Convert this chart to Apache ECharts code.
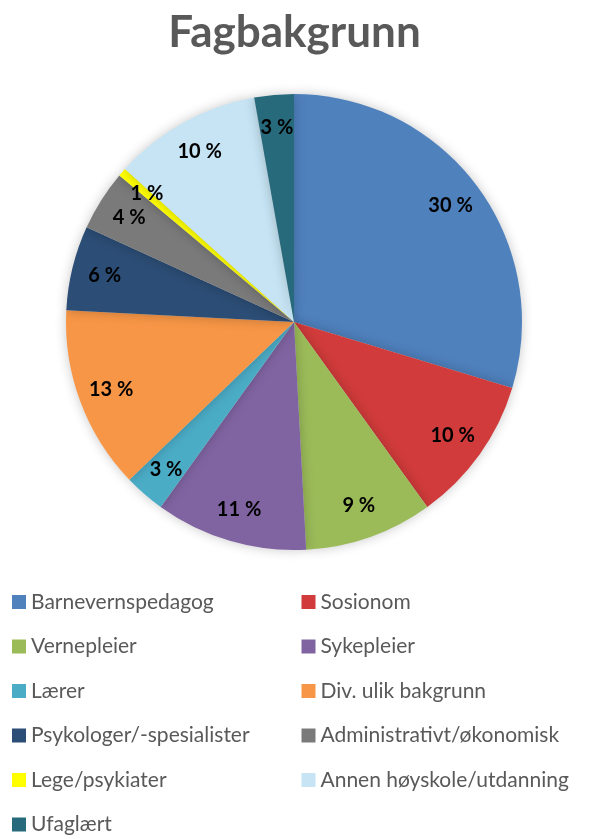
<!DOCTYPE html>
<html>
<head>
<meta charset="utf-8">
<script src="https://cdn.jsdelivr.net/npm/echarts@6/dist/echarts.min.js"></script>
<style>
  html, body { margin: 0; padding: 0; background: #fff; }
  #chart { width: 589px; height: 839px; }
</style>
</head>
<body>
<div id="chart"></div>
<script>
// andel per fagbakgrunn (prosent, lest av figuren)
const categories = [
  "Barnevernspedagog", "Sosionom", "Vernepleier", "Sykepleier", "Lærer",
  "Div. ulik bakgrunn", "Psykologer/-spesialister", "Administrativt/økonomisk",
  "Lege/psykiater", "Annen høyskole/utdanning", "Ufaglært"
];
const values = [29.7, 10.4, 9.1, 10.8, 2.9, 13.0, 6.0, 4.3, 0.6, 10.5, 2.8];
const colors = [
  "#4f81bd", "#d13b3b", "#9bbb59", "#8064a2", "#4bacc6",
  "#f79646", "#2c4d75", "#7a7a7a", "#ffff00", "#c6e4f4", "#276a7c"
];

const FONT = "Lato";
const cx = 294, cy = 322, R = 228;

let myChart = echarts.init(document.getElementById("chart"));
const pieData = categories.map((name, i) => ({
  name: name,
  value: values[i],
  itemStyle: { color: colors[i] },
}));

let option = {
  animation: false,
  color: colors,
  title: {
    text: "Fagbakgrunn",
    left: "center",
    top: 6,
    textStyle: {
      fontFamily: FONT,
      fontWeight: "bold",
      fontSize: 44,
      color: "#595959",
    },
  },
  legend: {
    data: categories,
    left: 12,
    top: 590,
    width: 575,
    padding: 0,
    itemWidth: 14,
    itemHeight: 14,
    itemGap: 20.5,
    icon: "rect",
    selectedMode: false,
    textStyle: {
      fontFamily: FONT,
      fontSize: 21,
      color: "#595959",
      width: 250,
      lineHeight: 24,
    },
  },
  series: [
    {
      // selve kaka
      type: "pie",
      center: [cx, cy],
      radius: [0, R],
      startAngle: 90,
      clockwise: true,
      silent: true,
      label: { show: false },
      labelLine: { show: false },
      itemStyle: {
        borderWidth: 0,
        shadowBlur: 12,
        shadowColor: "rgba(0,0,0,0.22)",
      },
      data: pieData,
    },
    {
      // usynlig ring, bare for å plassere etikettene ytterst
      type: "pie",
      center: [cx, cy],
      radius: [156, R],
      startAngle: 90,
      clockwise: true,
      silent: true,
      legendHoverLink: false,
      itemStyle: { color: "transparent", borderWidth: 0 },
      label: {
        show: true,
        position: "inside",
        formatter: (p) => Math.round(p.percent) + " %",
        fontFamily: FONT,
        fontWeight: "bold",
        fontSize: 20,
        color: "#000",
      },
      labelLine: { show: false },
      data: categories.map((name, i) => ({ name: "_" + name, value: values[i] })),
    },
  ],
};
myChart.setOption(option);
</script>
</body>
</html>
